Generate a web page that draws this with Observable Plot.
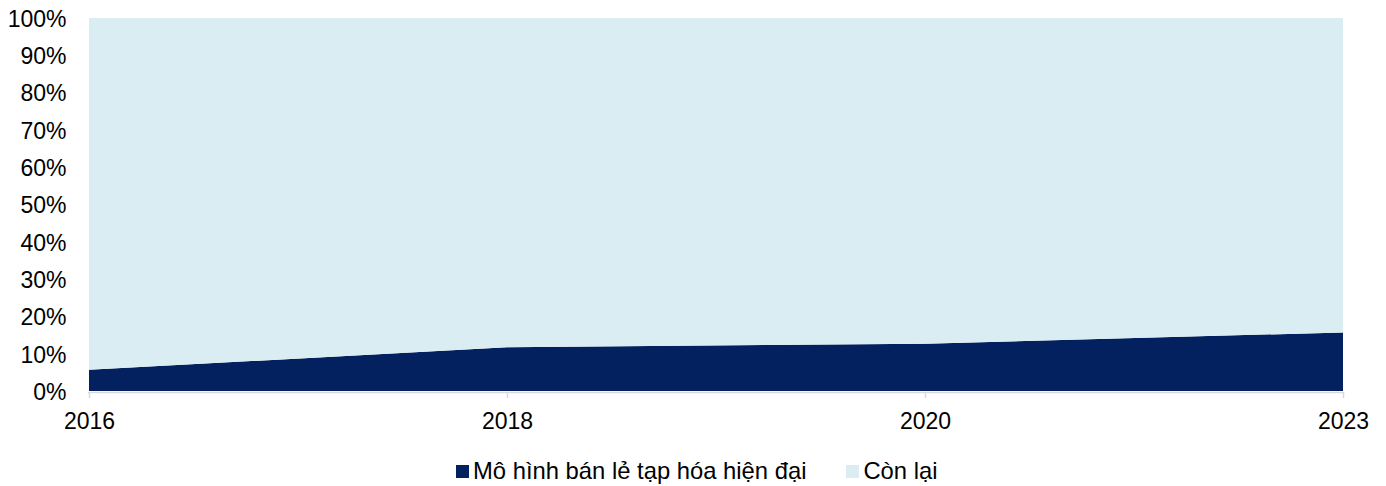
<!DOCTYPE html>
<html>
<head>
<meta charset="utf-8">
<script src="https://cdn.jsdelivr.net/npm/d3@7"></script>
<script src="https://cdn.jsdelivr.net/npm/@observablehq/plot@0.6"></script>
<style>
  html, body { margin: 0; padding: 0; background: #fff; }
  body { width: 1386px; height: 486px; font-family: "Liberation Sans", Arial, sans-serif; }
  #chart svg { display: block; }
  .legend { display: flex; justify-content: flex-start; gap: 40px; margin-top: 14px; padding-left: 456px; font-size: 23.8px; line-height: 28px; color: #000; }
  .legend .item { display: flex; align-items: center; gap: 4px; }
  .legend .sw { width: 13px; height: 13px; display: inline-block; }
</style>
</head>
<body>
<div id="chart"></div>
<div class="legend" id="legend"></div>
<script>
const years = ["2016", "2018", "2020", "2023"];
const seriesNames = ["Mô hình bán lẻ tạp hóa hiện đại", "Còn lại"];
const modernShare = [5.7, 11.7, 12.7, 15.7];
const restShare = [94.3, 88.3, 87.3, 84.3];
const colors = ["#02215E", "#DAEDF3"];
const yTicks = [0, 10, 20, 30, 40, 50, 60, 70, 80, 90, 100];

const data = [];
years.forEach((y, i) => {
  data.push({year: y, series: seriesNames[0], value: modernShare[i]});
  data.push({year: y, series: seriesNames[1], value: restShare[i]});
});

const chart = Plot.plot({
  width: 1386,
  height: 443,
  marginLeft: 88,
  marginRight: 43,
  marginTop: 18,
  marginBottom: 52,
  style: {fontFamily: "Liberation Sans, Arial, sans-serif", fontSize: "23px", color: "#000", background: "#fff"},
  x: {type: "point", domain: years, padding: 0, label: null},
  y: {domain: [0, 100], label: null},
  color: {domain: seriesNames, range: colors},
  marks: [
    Plot.areaY(data, Plot.stackY({order: seriesNames}, {x: "year", y: "value", z: "series", fill: "series"})),
    Plot.ruleY([0], {stroke: "#d9d9d9", strokeWidth: 1.5, dy: 1}),
    Plot.axisY({ticks: yTicks, tickFormat: d => d + "%", tickSize: 0, tickPadding: 22, fontSize: 23, fill: "#000", dy: 1}),
    Plot.axisX({tickSize: 6, stroke: "#d9d9d9", strokeWidth: 1.5, tickPadding: 14, fontSize: 23, fill: "#000", dy: 1})
  ]
});
document.getElementById("chart").appendChild(chart);

const legend = document.getElementById("legend");
seriesNames.forEach((name, i) => {
  const item = document.createElement("div");
  item.className = "item";
  const sw = document.createElement("span");
  sw.className = "sw";
  sw.style.background = colors[i];
  const label = document.createElement("span");
  label.textContent = name;
  item.appendChild(sw);
  item.appendChild(label);
  legend.appendChild(item);
});
</script>
</body>
</html>
